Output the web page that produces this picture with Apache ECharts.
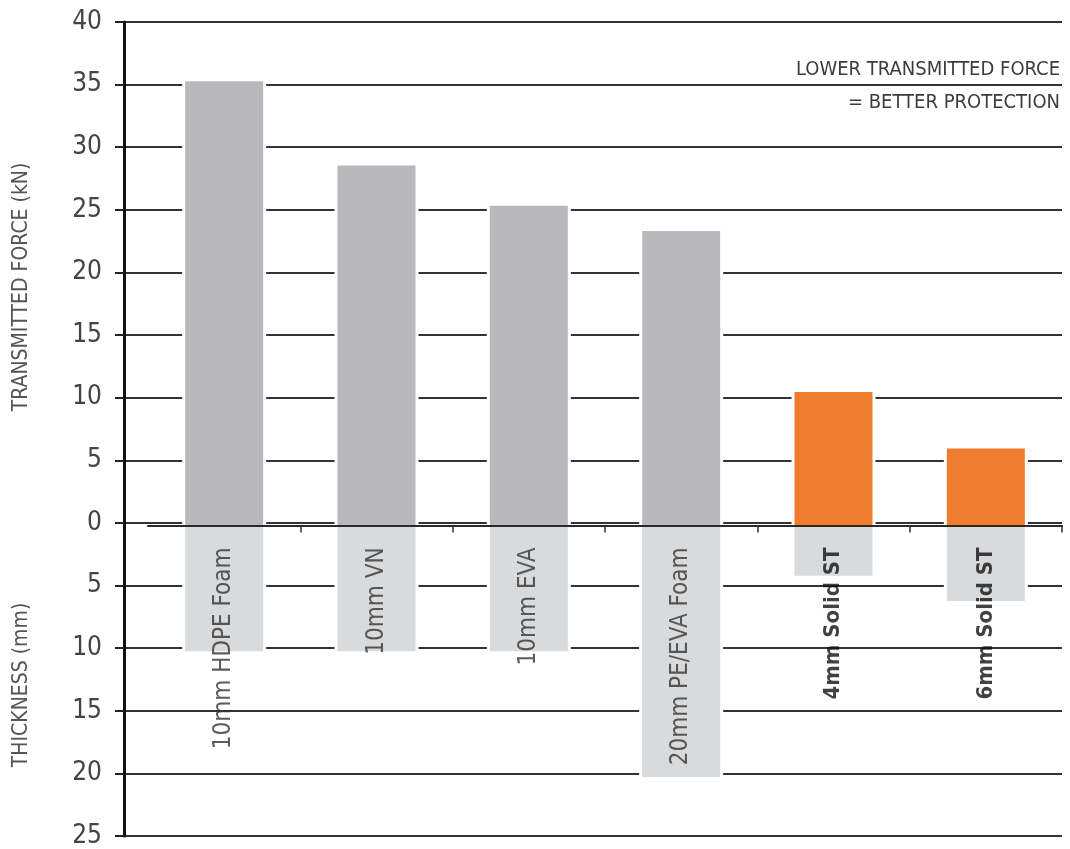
<!DOCTYPE html>
<html>
<head>
<meta charset="utf-8">
<script src="https://cdn.jsdelivr.net/npm/echarts@6/dist/echarts.min.js"></script>
<style>
  html, body { margin: 0; padding: 0; background: #fff; }
  #chart { width: 1070px; height: 849px; }
</style>
</head>
<body>
<div id="chart"></div>
<script>
// Materials compared, with transmitted force (kN) and thickness (mm)
const categories = ['10mm HDPE Foam', '10mm VN', '10mm EVA', '20mm PE/EVA Foam', '4mm Solid ST', '6mm Solid ST'];
const transmittedForce = [35.3, 28.6, 25.4, 23.4, 10.6, 6.1];
const thickness = [10, 10, 10, 20, 4, 6];
const isSolidST = [false, false, false, false, true, true];
const yTicks = { min: -25, max: 40, step: 5 };

const FONT = '"Liberation Sans Narrow", "DejaVu Sans Condensed", "Arial Narrow", sans-serif';
const GREY_BAR = '#b9b9bd';
const THICK_BAR = '#d9dadc';
const ORANGE = '#f07c2e';
const BAR_W = 78;
const GAP = 3; // white margin that interrupts the gridlines beside each bar

const chart = echarts.init(document.getElementById('chart'), null, { renderer: 'canvas' });

const option = {
  backgroundColor: '#ffffff',
  animation: false,
  grid: [
    // grid 0: the visible value axis and full-width gridlines
    { left: 124, right: 8, top: 22, bottom: 9 },
    // grid 1: the bars, inset from the axis line
    { left: 148, right: 8, top: 22, bottom: 9 }
  ],
  xAxis: [
    { gridIndex: 0, type: 'category', data: categories, show: false },
    {
      gridIndex: 1, type: 'category', data: categories, z: 5,
      axisLine: { show: true, onZero: true, lineStyle: { color: '#2a2a2a', width: 2 } },
      axisTick: { show: true, length: 7, interval: i => i !== 0, lineStyle: { color: '#2a2a2a', width: 1.5 } },
      axisLabel: { show: false },
      splitLine: { show: false }
    }
  ],
  yAxis: [
    {
      gridIndex: 0, type: 'value',
      min: yTicks.min, max: yTicks.max, interval: yTicks.step,
      axisLine: { show: true, lineStyle: { color: '#111', width: 3 } },
      axisTick: { show: true, length: 9, lineStyle: { color: '#222', width: 2 } },
      axisLabel: {
        margin: 22, color: '#444', fontFamily: FONT, fontSize: 26,
        formatter: v => String(Math.abs(v))
      },
      splitLine: { show: true, lineStyle: { color: '#333', width: 2 } }
    },
    {
      gridIndex: 1, type: 'value',
      min: yTicks.min, max: yTicks.max, interval: yTicks.step,
      show: false
    }
  ],
  graphic: [
    {
      type: 'text',
      style: {
        x: 1060, y: 70, text: 'LOWER TRANSMITTED FORCE', align: 'right', verticalAlign: 'middle',
        fill: '#3c3c3c', font: '20px ' + FONT
      }
    },
    {
      type: 'text',
      style: {
        x: 1060, y: 103, text: '= BETTER PROTECTION', align: 'right', verticalAlign: 'middle',
        fill: '#3c3c3c', font: '20px ' + FONT
      }
    },
    {
      type: 'text', x: 22, y: 287, rotation: Math.PI / 2,
      style: {
        x: 0, y: 0, text: 'TRANSMITTED FORCE (kN)', align: 'center', verticalAlign: 'middle',
        fill: '#555', font: '21px ' + FONT
      }
    },
    {
      type: 'text', x: 22, y: 685, rotation: Math.PI / 2,
      style: {
        x: 0, y: 0, text: 'THICKNESS (mm)', align: 'center', verticalAlign: 'middle',
        fill: '#555', font: '21px ' + FONT
      }
    }
  ],
  series: [
    {
      // white backing slightly wider than each bar, so gridlines stop short of the bars
      name: 'Bar margin', type: 'custom', xAxisIndex: 1, yAxisIndex: 1, z: 1, silent: true,
      data: categories.map((c, i) => [i, transmittedForce[i], -thickness[i]]),
      renderItem: (params, api) => {
        const top = api.coord([api.value(0), api.value(1)]);
        const bottom = api.coord([api.value(0), api.value(2)]);
        return {
          type: 'rect',
          shape: { x: top[0] - BAR_W / 2 - GAP, y: top[1], width: BAR_W + 2 * GAP, height: bottom[1] - top[1] },
          style: { fill: '#ffffff' }
        };
      }
    },
    {
      name: 'Transmitted force', type: 'bar', xAxisIndex: 1, yAxisIndex: 1,
      stack: 'material', barWidth: BAR_W, z: 2,
      data: transmittedForce.map((v, i) => ({
        value: v,
        itemStyle: { color: isSolidST[i] ? ORANGE : GREY_BAR }
      }))
    },
    {
      name: 'Thickness', type: 'bar', xAxisIndex: 1, yAxisIndex: 1,
      stack: 'material', barWidth: BAR_W, z: 2,
      data: thickness.map(v => -v),
      itemStyle: { color: THICK_BAR }
    },
    {
      name: 'Material labels', type: 'scatter', xAxisIndex: 1, yAxisIndex: 1,
      symbolSize: 0, z: 6, silent: true,
      data: categories.map((c, i) => ({
        value: [i, -1.75],
        name: c,
        label: isSolidST[i]
          ? { fontWeight: 'bold', color: '#111', fontSize: 22 }
          : { fontWeight: 'normal', color: '#333', fontSize: 24 }
      })),
      label: {
        show: true, position: [0, 0], rotate: 90,
        align: 'right', verticalAlign: 'middle',
        fontFamily: FONT, fontSize: 24,
        formatter: p => p.name
      }
    }
  ]
};

chart.setOption(option);
</script>
</body>
</html>
